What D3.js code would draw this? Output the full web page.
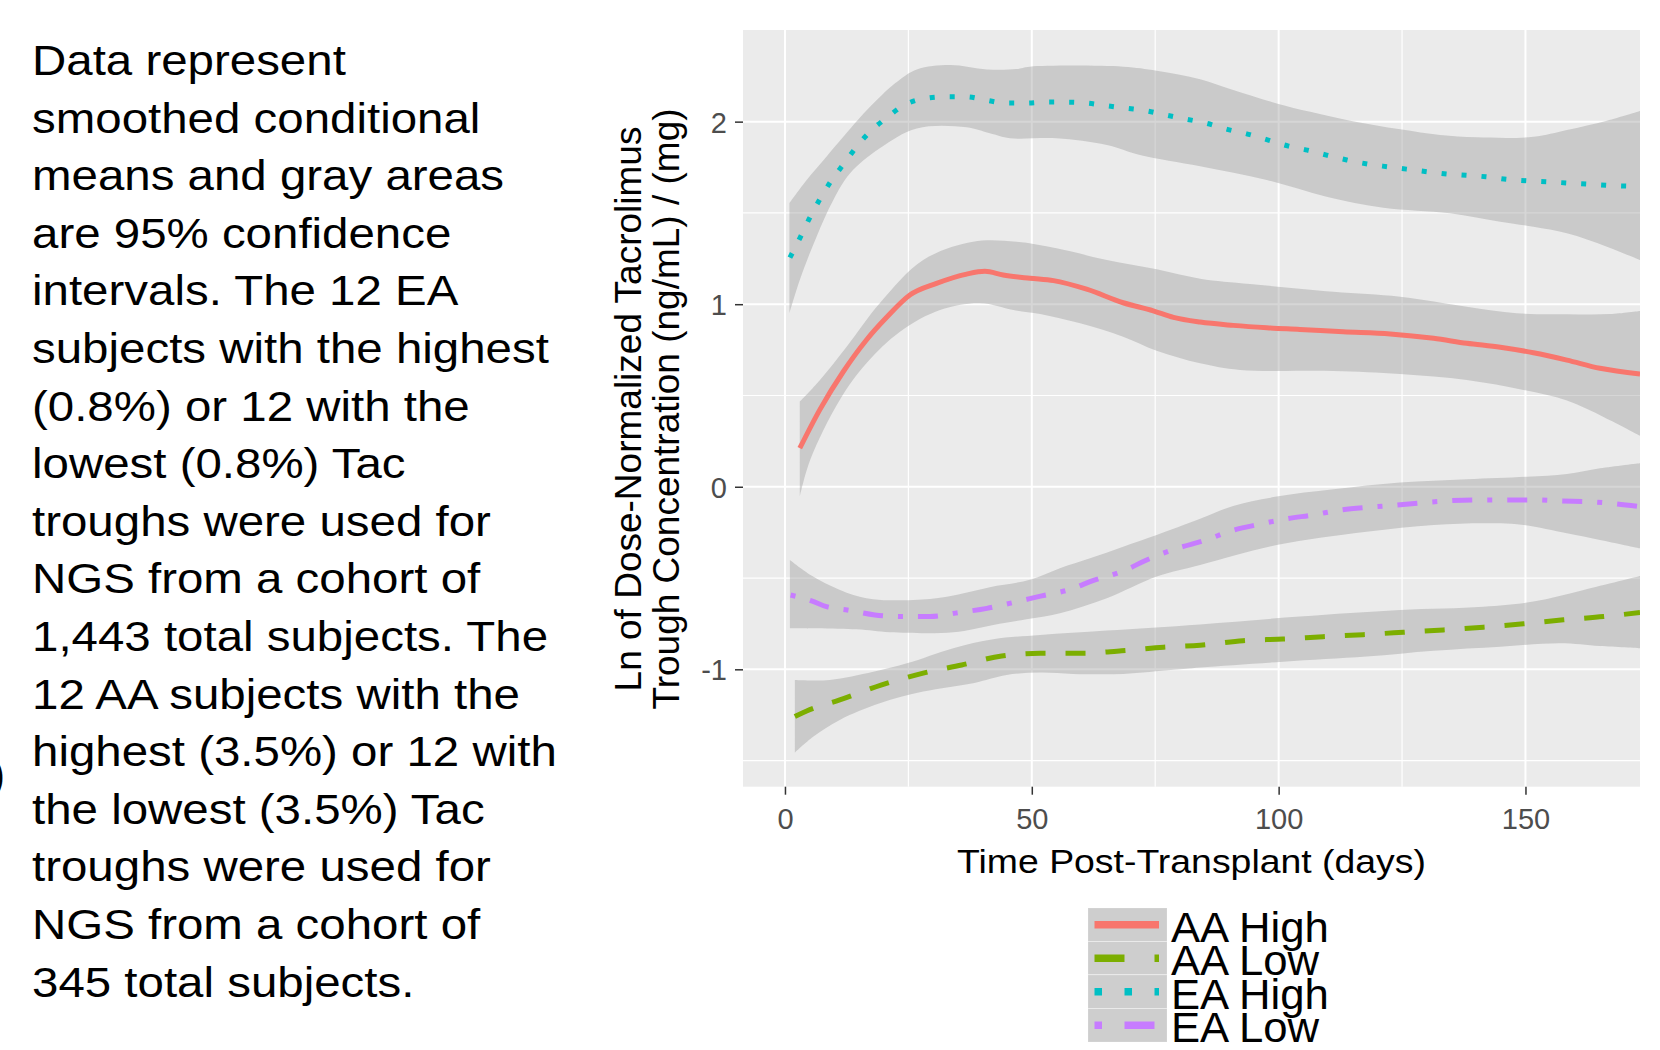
<!DOCTYPE html>
<html>
<head>
<meta charset="utf-8">
<script src="https://cdn.jsdelivr.net/npm/d3@7"></script>
<style>
  body { margin: 0; background: #fff; }
  text { font-family: "Liberation Sans", Arial, sans-serif; }
</style>
</head>
<body>
<div id="chart"></div>
<script>
// days post transplant vs ln(dose-normalized trough)
const groups = ["AA High", "AA Low", "EA High", "EA Low"];
const colors = ["#F8766D", "#7CAE00", "#00BFC4", "#C77CFF"];
const dashes = [null, [4, 4], [1, 3], [1, 3, 4, 3]];  // R lty in units of line width

const aaHighMean = [[3.0,0.211],[7.1,0.424],[11.8,0.630],[16.5,0.804],[20.6,0.928],[25.3,1.050],[30.7,1.114],[36.8,1.165],[40.5,1.180],[44.2,1.160],[49.6,1.142],[54.4,1.129],[61.1,1.082],[68.5,1.008],[74.6,0.964],[78.7,0.928],[84.1,0.902],[90.8,0.884],[97.6,0.871],[104.3,0.862],[113.1,0.849],[122.6,0.837],[131.4,0.813],[138.1,0.786],[144.9,0.764],[151.6,0.734],[158.4,0.694],[165.1,0.649],[173.2,0.618]];
const aaHighUpper = [[3.0,0.466],[7.1,0.585],[12.5,0.767],[19.2,1.005],[28.0,1.242],[38.1,1.342],[46.9,1.342],[55.0,1.306],[65.2,1.242],[75.3,1.191],[84.1,1.140],[94.2,1.111],[111.1,1.068],[124.6,1.041],[138.1,0.986],[148.2,0.950],[158.4,0.945],[167.1,0.946],[173.2,0.963]];
const aaHighLower = [[3.0,-0.054],[5.1,0.147],[11.1,0.475],[16.5,0.676],[23.3,0.849],[31.4,0.968],[39.5,1.005],[46.3,0.968],[51.7,0.946],[59.8,0.895],[68.5,0.822],[75.3,0.745],[84.1,0.676],[92.2,0.640],[111.1,0.634],[124.6,0.618],[138.1,0.585],[149.6,0.530],[158.4,0.472],[166.0,0.380],[173.2,0.280]];

const aaLowMean = [[2.0,-1.259],[4.4,-1.228],[11.1,-1.168],[19.6,-1.085],[28.0,-1.021],[35.8,-0.976],[43.9,-0.927],[51.7,-0.912],[60.5,-0.912],[68.2,-0.898],[76.7,-0.879],[84.1,-0.868],[92.8,-0.843],[100.9,-0.834],[109.0,-0.821],[117.1,-0.810],[125.3,-0.797],[133.4,-0.784],[141.5,-0.769],[149.6,-0.751],[157.7,-0.729],[165.8,-0.711],[173.2,-0.689]];
const aaLowUpper = [[2.0,-1.058],[9.1,-1.058],[17.9,-1.013],[24.7,-0.967],[34.1,-0.884],[42.2,-0.835],[51.7,-0.812],[65.2,-0.788],[84.1,-0.754],[104.3,-0.711],[124.6,-0.675],[141.5,-0.657],[151.6,-0.629],[161.8,-0.565],[173.2,-0.489]];
const aaLowLower = [[2.0,-1.456],[5.7,-1.369],[11.1,-1.277],[19.2,-1.186],[28.0,-1.122],[38.1,-1.076],[44.9,-1.031],[51.7,-1.018],[58.4,-1.025],[68.5,-1.025],[78.7,-1.003],[84.1,-0.990],[100.9,-0.958],[117.8,-0.930],[131.4,-0.898],[144.9,-0.876],[157.0,-0.857],[165.1,-0.872],[173.2,-0.884]];

const eaHighMean = [[1.0,1.255],[3.0,1.361],[4.9,1.467],[6.95,1.569],[9.25,1.671],[11.95,1.770],[14.6,1.866],[17.4,1.949],[20.6,2.021],[24.2,2.091],[28.4,2.127],[32.6,2.136],[36.7,2.136],[40.7,2.118],[44.7,2.102],[48.8,2.102],[52.9,2.107],[57.0,2.107],[61.1,2.102],[65.2,2.087],[69.2,2.073],[73.1,2.060],[77.2,2.036],[81.4,2.013],[85.4,1.991],[89.6,1.958],[93.7,1.932],[97.9,1.899],[102.0,1.866],[105.8,1.844],[109.7,1.817],[113.8,1.790],[118.0,1.768],[122.0,1.753],[125.9,1.740],[130.0,1.726],[134.1,1.713],[138.0,1.706],[142.0,1.698],[146.2,1.684],[150.3,1.676],[154.3,1.671],[158.4,1.664],[162.6,1.658],[166.6,1.651],[173.2,1.645]];
const eaHighUpper = [[0.9,1.553],[4.4,1.680],[8.4,1.808],[14.9,2.013],[18.6,2.118],[22.3,2.210],[26.7,2.286],[33.4,2.310],[40.9,2.286],[46.9,2.288],[49.6,2.301],[68.5,2.301],[75.3,2.279],[84.1,2.232],[90.8,2.173],[99.6,2.100],[106.4,2.054],[114.5,2.005],[124.6,1.958],[132.7,1.927],[140.1,1.914],[151.6,1.917],[158.4,1.954],[166.5,2.005],[173.2,2.058]];
const eaHighLower = [[0.9,0.950],[3.0,1.133],[6.4,1.370],[9.8,1.571],[13.2,1.717],[19.2,1.854],[26.7,1.963],[36.8,1.969],[41.5,1.936],[45.6,1.909],[55.0,1.909],[65.2,1.872],[71.9,1.817],[84.1,1.755],[97.6,1.680],[109.7,1.589],[121.2,1.528],[134.7,1.498],[144.9,1.452],[151.6,1.424],[158.4,1.388],[166.5,1.315],[173.2,1.242]];

const eaLowMean = [[1.15,-0.593],[5.4,-0.625],[8.4,-0.657],[12.6,-0.675],[18.2,-0.702],[24.0,-0.711],[29.4,-0.711],[35.2,-0.689],[40.9,-0.666],[46.4,-0.633],[52.0,-0.598],[57.4,-0.565],[62.8,-0.510],[68.2,-0.465],[73.6,-0.397],[79.0,-0.341],[85.4,-0.291],[90.3,-0.242],[96.2,-0.205],[101.6,-0.176],[107.0,-0.154],[112.7,-0.127],[118.5,-0.112],[124.0,-0.100],[129.3,-0.087],[135.1,-0.076],[140.5,-0.072],[146.1,-0.072],[151.6,-0.072],[157.4,-0.078],[163.1,-0.082],[168.5,-0.094],[173.2,-0.109]];
const eaLowUpper = [[1.0,-0.401],[5.7,-0.492],[12.5,-0.580],[17.9,-0.616],[26.0,-0.620],[32.8,-0.602],[41.5,-0.550],[49.6,-0.510],[55.7,-0.446],[61.8,-0.392],[68.5,-0.328],[75.3,-0.264],[84.1,-0.175],[90.8,-0.105],[99.6,-0.054],[111.1,-0.014],[124.6,0.023],[138.1,0.041],[150.3,0.055],[158.4,0.070],[165.1,0.101],[173.2,0.129]];
const eaLowLower = [[1.0,-0.775],[14.5,-0.781],[21.3,-0.797],[34.1,-0.797],[42.2,-0.757],[48.9,-0.726],[55.7,-0.693],[65.2,-0.611],[75.3,-0.492],[84.1,-0.428],[99.6,-0.319],[117.8,-0.246],[131.4,-0.209],[141.5,-0.200],[148.3,-0.205],[158.4,-0.255],[165.1,-0.291],[173.2,-0.337]];

const means = [aaHighMean, aaLowMean, eaHighMean, eaLowMean];
const uppers = [aaHighUpper, aaLowUpper, eaHighUpper, eaLowUpper];
const lowers = [aaHighLower, aaLowLower, eaHighLower, eaLowLower];

const xTicks = [0, 50, 100, 150];
const xMinor = [25, 75, 125];
const yTicks = [2, 1, 0, -1];
const yMinor = [1.5, 0.5, -0.5, -1.5];

const noteLines = [
  "Data represent",
  "smoothed conditional",
  "means and gray areas",
  "are 95% confidence",
  "intervals. The 12 EA",
  "subjects with the highest",
  "(0.8%) or 12 with the",
  "lowest (0.8%) Tac",
  "troughs were used for",
  "NGS from a cohort of",
  "1,443 total subjects. The",
  "12 AA subjects with the",
  "highest (3.5%) or 12 with",
  "the lowest (3.5%) Tac",
  "troughs were used for",
  "NGS from a cohort of",
  "345 total subjects."
];

const width = 1660, height = 1050;
const panel = {left: 743, right: 1640, top: 30, bottom: 786.7};

var svg = d3.select("#chart").append("svg")
  .attr("width", width)
  .attr("height", height);

// NOTE TEXT ON THE LEFT
svg.append("g").selectAll("text")
  .data(noteLines)
  .enter().append("text")
    .attr("transform", (d, i) => "translate(32," + (75 + i * 57.6) + ") scale(1.13,1)")
    .attr("font-size", 42)
    .attr("fill", "#000")
    .text(d => d);

// stray bracket cut by the left edge of the slide
svg.append("text")
  .attr("x", 5).attr("y", 789)
  .attr("text-anchor", "end")
  .attr("font-size", 42)
  .text(")");

var x = d3.scaleLinear().domain([-8.5, 173.2]).range([panel.left, panel.right]);
var y = d3.scaleLinear().domain([-1.643, 2.502]).range([panel.bottom, panel.top]);

svg.append("clipPath").attr("id", "clip")
  .append("rect")
    .attr("x", panel.left).attr("y", panel.top)
    .attr("width", panel.right - panel.left)
    .attr("height", panel.bottom - panel.top);

svg.append("rect")
  .attr("x", panel.left).attr("y", panel.top)
  .attr("width", panel.right - panel.left)
  .attr("height", panel.bottom - panel.top)
  .attr("fill", "#ebebeb");

// GRID
var grid = svg.append("g").attr("stroke", "#fff");
grid.selectAll("line.xminor").data(xMinor).enter().append("line")
  .attr("x1", d => x(d)).attr("x2", d => x(d))
  .attr("y1", panel.top).attr("y2", panel.bottom).attr("stroke-width", 1.2);
grid.selectAll("line.yminor").data(yMinor).enter().append("line")
  .attr("y1", d => y(d)).attr("y2", d => y(d))
  .attr("x1", panel.left).attr("x2", panel.right).attr("stroke-width", 1.2);
grid.selectAll("line.xmajor").data(xTicks).enter().append("line")
  .attr("x1", d => x(d)).attr("x2", d => x(d))
  .attr("y1", panel.top).attr("y2", panel.bottom).attr("stroke-width", 2);
grid.selectAll("line.ymajor").data(yTicks).enter().append("line")
  .attr("y1", d => y(d)).attr("y2", d => y(d))
  .attr("x1", panel.left).attr("x2", panel.right).attr("stroke-width", 2);

// RIBBONS + SMOOTH LINES
var edge = d3.line()
  .x(d => x(d[0])).y(d => y(d[1]))
  .curve(d3.curveCatmullRom);

var plot = svg.append("g").attr("clip-path", "url(#clip)");

plot.selectAll("path.ribbon")
  .data(groups)
  .enter().append("path")
    .attr("class", "ribbon")
    .attr("d", (g, i) => {
      var top = edge(uppers[i]);
      var bot = edge(lowers[i].slice().reverse()).replace(/^M/, "L");
      return top + bot + "Z";
    })
    .attr("fill", "#999")
    .attr("fill-opacity", 0.4);

var lw = 5;
var meanLine = d3.line()
  .x(d => x(d[0])).y(d => y(d[1]))
  .curve(d3.curveMonotoneX);

plot.selectAll("path.smooth")
  .data(groups)
  .enter().append("path")
    .attr("class", "smooth")
    .attr("d", (g, i) => meanLine(means[i]))
    .attr("fill", "none")
    .attr("stroke", (g, i) => colors[i])
    .attr("stroke-width", lw)
    .attr("stroke-linecap", "butt")
    .attr("stroke-dasharray", (g, i) => dashes[i] ? dashes[i].map(v => v * lw).join(",") : null);

// AXES
var xAxis = d3.axisBottom(x).tickValues(xTicks).tickSize(8).tickPadding(6)
  .tickFormat(d => String(d));
var gx = svg.append("g")
  .attr("transform", "translate(0," + panel.bottom + ")")
  .call(xAxis);
gx.select(".domain").remove();
gx.selectAll(".tick line").attr("stroke", "#333").attr("stroke-width", 1.5);
gx.selectAll(".tick text")
  .attr("font-family", null)
  .attr("font-size", 29)
  .attr("fill", "#4d4d4d")
  .attr("dy", null)
  .attr("y", 42);

var yAxis = d3.axisLeft(y).tickValues(yTicks).tickSize(8).tickPadding(8)
  .tickFormat(d => String(d));  // plain hyphen, no decimals
var gy = svg.append("g")
  .attr("transform", "translate(" + panel.left + ",0)")
  .call(yAxis);
gy.select(".domain").remove();
gy.selectAll(".tick line").attr("stroke", "#333").attr("stroke-width", 1.5);
gy.selectAll(".tick text")
  .attr("font-family", null)
  .attr("font-size", 29)
  .attr("fill", "#4d4d4d")
  .attr("dy", "0.36em");

svg.append("text")
  .attr("transform", "translate(" + (panel.left + panel.right) / 2 + ",873) scale(1.1,1)")
  .attr("text-anchor", "middle")
  .attr("font-size", 34)
  .text("Time Post-Transplant (days)");

var ytitle = svg.append("text")
  .attr("transform", "translate(641,409) rotate(-90)")
  .attr("text-anchor", "middle")
  .attr("font-size", 37);
ytitle.append("tspan").attr("x", 0).attr("y", 0).text("Ln of Dose-Normalized Tacrolimus");
ytitle.append("tspan").attr("x", 0).attr("y", 38).text("Trough Concentration (ng/mL) / (mg)");

// LEGEND
var keyH = 33.5, keyW = 79, legLw = 7.5;
var legend = svg.append("g").attr("transform", "translate(1088,908)");

var keys = legend.selectAll("g.key")
  .data(groups)
  .enter().append("g")
    .attr("class", "key")
    .attr("transform", (d, i) => "translate(0," + i * keyH + ")");

keys.append("rect")
  .attr("width", keyW).attr("height", keyH)
  .attr("fill", "#f2f2f2").attr("stroke", "#fff").attr("stroke-width", 1);
keys.append("rect")
  .attr("width", keyW).attr("height", keyH)
  .attr("fill", "#999").attr("fill-opacity", 0.4);
keys.append("line")
  .attr("x1", 6.5).attr("x2", 71)
  .attr("y1", keyH / 2).attr("y2", keyH / 2)
  .attr("stroke", (d, i) => colors[i])
  .attr("stroke-width", legLw)
  .attr("stroke-dasharray", (d, i) => dashes[i] ? dashes[i].map(v => v * legLw).join(",") : null);
keys.append("text")
  .attr("transform", "translate(83," + (keyH / 2 + 16.8) + ") scale(1.04,1)")
  .attr("font-size", 42)
  .attr("fill", "#000")
  .text(d => d);
</script>
</body>
</html>
